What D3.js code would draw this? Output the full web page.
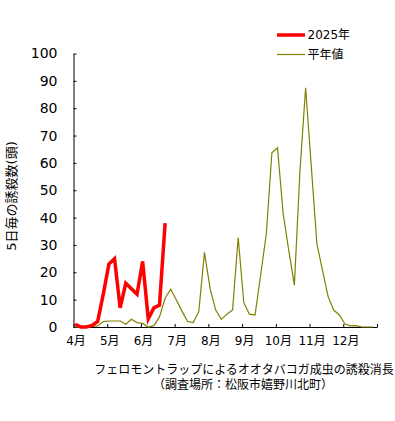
<!DOCTYPE html>
<html>
<head>
<meta charset="utf-8">
<script src="https://cdn.jsdelivr.net/npm/d3@7"></script>
<style>
  body { margin: 0; background: #fff; }
  svg text { font-family: "DejaVu Sans", "Noto Sans CJK JP", sans-serif; fill: #000; }
  .axis path, .axis line { stroke: #000; }
</style>
</head>
<body>
<svg id="chart"></svg>
<script>
// month labels, one every 6 pentads (5-day periods)
const monthLabels = ['4月', '5月', '6月', '7月', '8月', '9月', '10月', '11月', '12月'];
const yTicks = [0, 10, 20, 30, 40, 50, 60, 70, 80, 90, 100];

// 2025 catches per 5 days (from 4/1)
const values2025 = [1, 0, 0, 0.6, 2, 12, 23, 25, 7, 16, 14, 12, 24, 3, 7, 8, 38];

// normal year (平年値)
const valuesNormal = [0, 0, 0, 0.2, 0.4, 2, 2.2, 2.2, 2.2, 1, 2.8, 1.6, 1.3, 0, 0.5, 3.7,
  10.5, 13.8, 9.9, 5.8, 2, 1.6, 5.7, 27.3, 14.1, 6.2, 2.8, 4.7, 6.2, 32.7, 8.9, 4.7,
  4.4, 19, 34, 63.7, 65.5, 41.5, 28, 15.3, 57.3, 87.5, 59, 30.5, 20.8, 11.1, 6.2, 4.4,
  1.1, 0.4, 0.5, 0, 0, 0];

const seriesNames = ['2025年', '平年値'];

class PentadChart {

  constructor(_config) {
    this.config = {
      parentElement: _config.parentElement,
      containerWidth: _config.containerWidth || 395,
      containerHeight: _config.containerHeight || 421,
      margin: _config.margin || {top: 53.5, right: 18, bottom: 94, left: 73.5}
    };
    this.initVis();
  }

  initVis() {
    let vis = this;

    vis.width = vis.config.containerWidth - vis.config.margin.left - vis.config.margin.right;
    vis.height = vis.config.containerHeight - vis.config.margin.top - vis.config.margin.bottom;

    // x in pentads: 9 months * 6
    vis.xScale = d3.scaleLinear()
        .domain([0, monthLabels.length * 6])
        .range([0, vis.width]);

    vis.yScale = d3.scaleLinear()
        .domain([0, 100])
        .range([vis.height, 0]);

    vis.svg = d3.select(vis.config.parentElement)
        .attr('width', vis.config.containerWidth)
        .attr('height', vis.config.containerHeight);

    vis.chart = vis.svg.append('g')
        .attr('transform', `translate(${vis.config.margin.left},${vis.config.margin.top})`);

    vis.xAxis = d3.axisBottom(vis.xScale)
        .tickValues(d3.range(0, monthLabels.length * 6 + 1, 6))
        .tickFormat((d, i) => monthLabels[i] || '')
        .tickSize(-3)
        .tickSizeOuter(0)
        .tickPadding(9);

    vis.yAxis = d3.axisLeft(vis.yScale)
        .tickValues(yTicks)
        .tickSize(-3)
        .tickSizeOuter(0)
        .tickPadding(16);

    vis.xAxisG = vis.chart.append('g')
        .attr('class', 'axis x-axis')
        .attr('transform', `translate(0,${vis.height})`);

    vis.yAxisG = vis.chart.append('g')
        .attr('class', 'axis y-axis');

    // y axis title
    vis.svg.append('text')
        .attr('transform', 'translate(16,196) rotate(-90)')
        .attr('text-anchor', 'middle')
        .style('font-size', '13px')
        .text('5日毎の誘殺数(頭)');

    // caption under the x axis
    vis.svg.append('text')
        .attr('x', 244)
        .attr('y', 373.5)
        .attr('text-anchor', 'middle')
        .style('font-size', '12px')
        .text('フェロモントラップによるオオタバコガ成虫の誘殺消長');

    vis.svg.append('text')
        .attr('x', 243)
        .attr('y', 388.5)
        .attr('text-anchor', 'middle')
        .style('font-size', '12px')
        .text('（調査場所：松阪市嬉野川北町）');

    // legend
    const legend = vis.svg.append('g')
        .attr('transform', 'translate(277,35)');
    const legendItems = [
      {name: seriesNames[0], color: '#ff0000', width: 3.5},
      {name: seriesNames[1], color: '#808000', width: 1.2}
    ];
    legendItems.forEach((d, i) => {
      legend.append('line')
          .attr('x1', 0).attr('x2', 28)
          .attr('y1', i * 19.5).attr('y2', i * 19.5)
          .attr('stroke', d.color)
          .attr('stroke-width', d.width);
      legend.append('text')
          .attr('x', 30.5)
          .attr('y', i * 19.5)
          .attr('dy', '0.36em')
          .style('font-size', '12px')
          .text(d.name);
    });
  }

  updateVis() {
    let vis = this;
    vis.line = d3.line()
        .x((d, i) => vis.xScale(i + 0.3))
        .y(d => vis.yScale(d));
    vis.renderVis();
  }

  renderVis() {
    let vis = this;

    vis.xAxisG.call(vis.xAxis);
    vis.xAxisG.selectAll('text')
        .attr('dx', 2)
        .style('font-size', '12px');

    vis.yAxisG.call(vis.yAxis);
    vis.yAxisG.selectAll('text')
        .style('font-size', '14px');

    vis.chart.append('path')
        .datum(valuesNormal)
        .attr('fill', 'none')
        .attr('stroke', '#808000')
        .attr('stroke-width', 1.2)
        .attr('d', vis.line);

    vis.chart.append('path')
        .datum(values2025)
        .attr('fill', 'none')
        .attr('stroke', '#ff0000')
        .attr('stroke-width', 3.5)
        .attr('stroke-linejoin', 'miter')
        .attr('d', vis.line);
  }
}

const chart = new PentadChart({parentElement: '#chart'});
chart.updateVis();
</script>
</body>
</html>
